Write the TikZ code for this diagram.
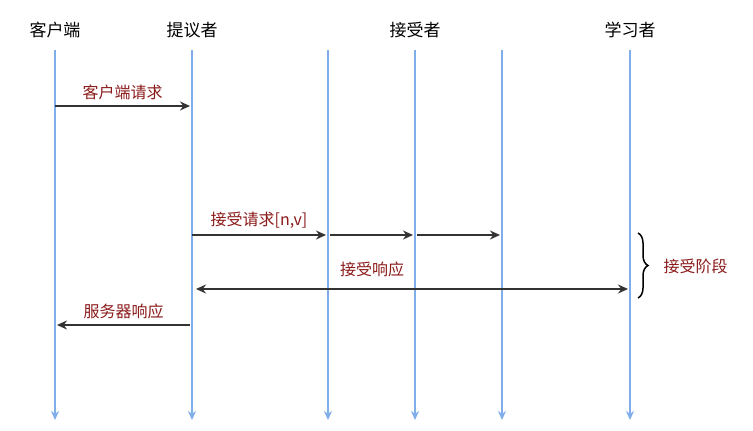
\documentclass[tikz,border=0pt]{standalone}
\usepackage{fontspec}
\setmainfont{Noto Sans CJK SC}
\usetikzlibrary{arrows.meta,decorations.pathreplacing}
\definecolor{lifeblue}{HTML}{7FAEEA}
\definecolor{msgred}{HTML}{8B1A1A}
\definecolor{msgdark}{HTML}{333333}

\begin{document}
\begin{tikzpicture}[x=1pt,y=-1pt,
        life/.style={draw=lifeblue,line width=1.5pt,-{Stealth[length=9pt,width=8pt]}},
        msg/.style={draw=msgdark,line width=1.5pt,-{Stealth[length=10pt,width=9pt]}},
        msglabel/.style={text=msgred,font=\fontsize{16}{16}\selectfont},
        head/.style={font=\fontsize{17}{17}\selectfont,text=black}]
        \useasboundingbox (0,0) rectangle (753,431);

        % lifelines
        \node[head] (client) at (55,30) {客户端};
        \node[head] (proposer) at (192,30) {提议者};
        \node[head] (acceptor) at (415,30) {接受者};
        \node[head] (learner) at (630,30) {学习者};
        \coordinate (a1) at (328,50);
        \coordinate (a3) at (502,50);
        \draw[life] (55,50) -- (55,420);
        \draw[life] (192,50) -- (192,420);
        \draw[life] (a1) -- (328,420);
        \draw[life] (415,50) -- (415,420);
        \draw[life] (a3) -- (502,420);
        \draw[life] (630,50) -- (630,420);

        % client request
        \coordinate (creq) at (55,106);
        \coordinate (preq) at (190,106);
        \draw[msg] (creq) -- node[msglabel,above=2pt] {客户端请求} (preq);

        % accept request
        \coordinate (p1) at (192,235);
        \coordinate (q1) at (326,235);
        \coordinate (p2) at (330,235);
        \coordinate (q2) at (413,235);
        \coordinate (p3) at (417,235);
        \coordinate (q3) at (500,235);
        \draw[msg] (p1) -- node[msglabel,above=2pt] {接受请求[n,v]} (q1);
        \draw[msg] (p2) -- (q2);
        \draw[msg] (p3) -- (q3);

        % accept response
        \coordinate (rl) at (196,289);
        \coordinate (rr) at (628,289);
        \draw[msg,{Stealth[length=10pt,width=9pt]}-{Stealth[length=10pt,width=9pt]}] (rl) -- (rr);
        \node[msglabel] (resp) at (372,269) {接受响应};

        % server response
        \coordinate (sr) at (190,325);
        \coordinate (sl) at (57,325);
        \draw[msg] (sr) -- node[msglabel,above=2pt] {服务器响应} (sl);

        % accept phase
        \coordinate (bt) at (638,233);
        \coordinate (bb) at (638,298);
        \draw[line width=1.5pt,decorate,decoration={brace,amplitude=10pt}] (bt) -- (bb);
        \node[msglabel,anchor=west] (phase) at (660,266) {接受阶段};
\end{tikzpicture}
\end{document}
